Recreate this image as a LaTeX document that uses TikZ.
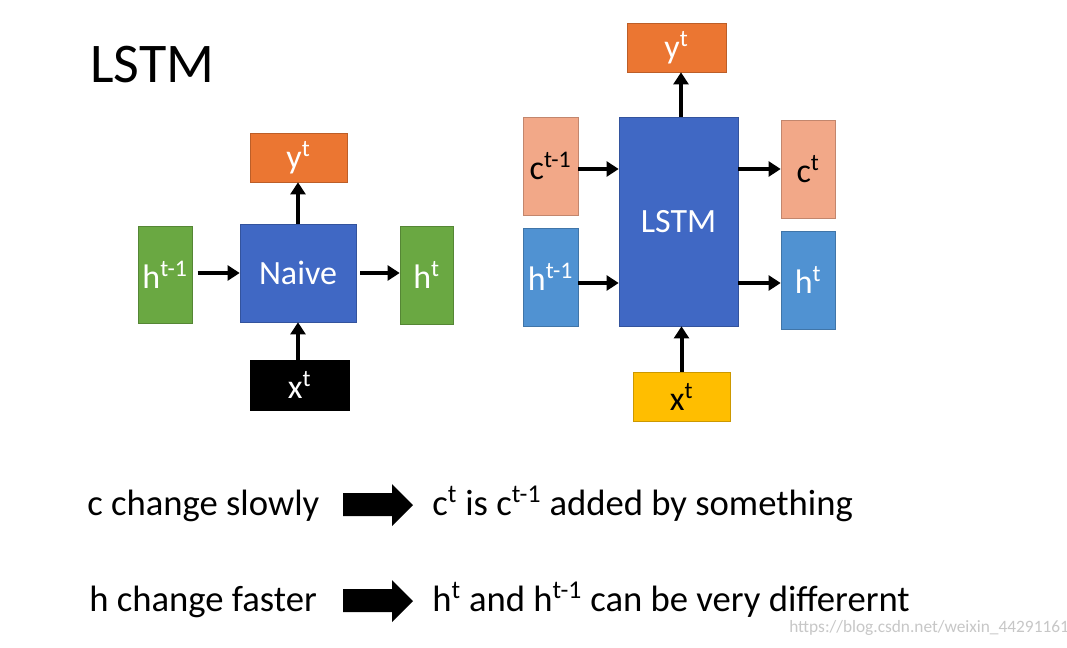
\documentclass[tikz,border=0pt]{standalone}
\usepackage{fontspec}
\setmainfont{Carlito}
\usepackage{xcolor}
\usetikzlibrary{arrows.meta}
\usetikzlibrary{positioning}

\definecolor{cellblue}{RGB}{64,104,196}
\definecolor{outorange}{RGB}{235,118,50}
\definecolor{hgreen}{RGB}{106,168,66}
\definecolor{csalmon}{RGB}{242,168,136}
\definecolor{hblue}{RGB}{80,146,210}
\definecolor{xyellow}{RGB}{255,190,0}

\newdimen\px
\px=0.75pt

\tikzset{
  box/.style={draw=#1!80!black,fill=#1,inner sep=0pt,text=white,font=\fontsize{25.5}{30}\selectfont},
  flow/.style={line width=3pt,-{Triangle[length=9pt,width=11pt]}},
  note/.style={anchor=base west,font=\fontsize{27.5}{32}\selectfont,inner sep=0pt}
}

\begin{document}
\begin{tikzpicture}[x=0.75pt,y=-0.75pt]
\useasboundingbox[fill=white] (0,0) rectangle (1067,647);

\node[anchor=west,font=\fontsize{42}{50}\selectfont,inner sep=0pt] (title) at (90,65) {LSTM};

% naive cell
\node[box=cellblue,minimum width=116\px,minimum height=98\px] (naive) at (298,273) {Naive};
\node[box=outorange,minimum width=97\px,minimum height=49\px] (ynaive) at (298.5,157.5) {y\textsuperscript{t}};
\node[box=hgreen,minimum width=54\px,minimum height=97\px] (hprev) at (165,274.5) {h\textsuperscript{t-1}};
\node[box=hgreen,minimum width=53\px,minimum height=98\px] (hnext) at (426.5,275) {h\textsuperscript{t}};
\node[box=black,minimum width=99\px,minimum height=50\px] (xnaive) at (299.5,385) {x\textsuperscript{t}};

\draw[flow,shorten <=4pt] (hprev.east |- naive.west) -- (naive.west);
\draw[flow,shorten <=3pt] (naive.east) -- (naive.east -| hnext.west);
\draw[flow] (naive.north) -- (naive.north |- ynaive.south);
\draw[flow] (naive.south |- xnaive.north) -- (naive.south);

% lstm cell
\node[box=cellblue,minimum width=119\px,minimum height=209\px] (lstm) at (678.5,221.5) {LSTM};
\node[box=outorange,minimum width=99\px,minimum height=49\px] (ylstm) at (676.5,47.5) {y\textsuperscript{t}};
\node[box=csalmon,text=black,minimum width=55\px,minimum height=98\px] (cprev) at (550.5,166) {c\textsuperscript{t-1}};
\node[box=hblue,minimum width=55\px,minimum height=98\px] (hlprev) at (550.5,277) {h\textsuperscript{t-1}};
\node[box=csalmon,text=black,minimum width=54\px,minimum height=98\px] (cnext) at (808,169) {c\textsuperscript{t}};
\node[box=hblue,minimum width=54\px,minimum height=98\px] (hlnext) at (808,280) {h\textsuperscript{t}};
\node[box=xyellow,text=black,minimum width=97\px,minimum height=49\px] (xlstm) at (681.5,396.5) {x\textsuperscript{t}};

\coordinate (crow) at (0,169);
\coordinate (hrow) at (0,283);
\draw[flow] (cprev.east |- crow) -- (lstm.west |- crow);
\draw[flow] (hlprev.east |- hrow) -- (lstm.west |- hrow);
\draw[flow] (lstm.east |- crow) -- (cnext.west |- crow);
\draw[flow] (lstm.east |- hrow) -- (hlnext.west |- hrow);
\draw[flow] (lstm.north -| 681,0) -- (ylstm.south -| 681,0);
\draw[flow] (xlstm.north) -- (lstm.south -| xlstm.north);

% conclusions
\node[note] (cslow) at (87,515) {c change slowly};
\node[note] (cres) at (432,515) {c\textsuperscript{t} is c\textsuperscript{t-1} added by something};
\node[note] (hfast) at (89,611) {h change faster};
\node[note] (hres) at (432,611) {h\textsuperscript{t} and h\textsuperscript{t-1} can be very differernt};

\fill (343,493) -- (392,493) -- (392,484) -- (413,505) -- (392,526) -- (392,516) -- (343,516) -- cycle;
\fill (343,589) -- (392,589) -- (392,580) -- (413,601) -- (392,622) -- (392,612) -- (343,612) -- cycle;

\node[anchor=west,inner sep=0pt,text=black!22,font=\fontsize{13}{15}\selectfont] (mark) at (789,628) {https://blog.csdn.net/weixin\_44291161};
\end{tikzpicture}
\end{document}
